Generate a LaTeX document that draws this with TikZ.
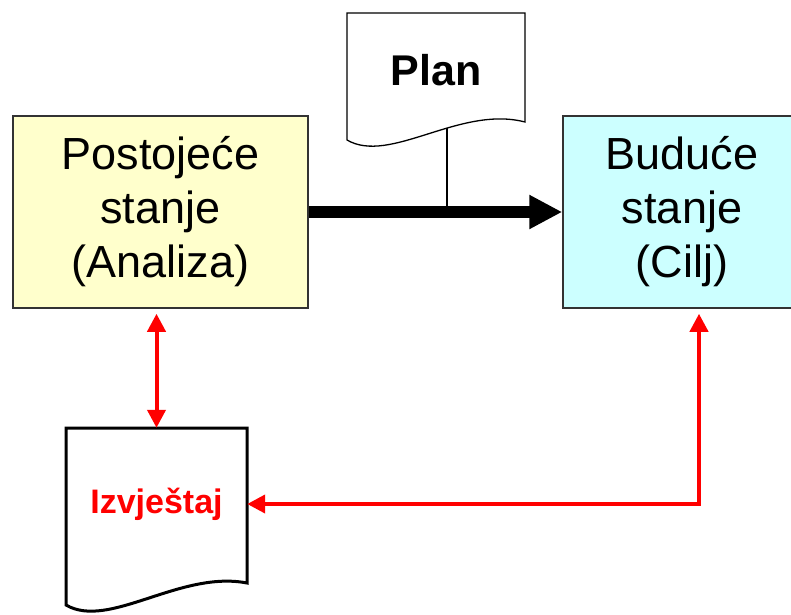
\documentclass[tikz,border=0pt]{standalone}
\usepackage{fontspec}
\setmainfont{Liberation Sans}
\usetikzlibrary{arrows.meta}
\definecolor{Line}{HTML}{333333}
\definecolor{Now}{HTML}{FFFFCC}
\definecolor{Goal}{HTML}{CCFFFF}
\definecolor{Mark}{HTML}{FF0000}

\begin{document}
\begin{tikzpicture}[
 x=1pt,y=-1pt,
 b/.style={draw=Line,line width=1.5pt,minimum height=192pt,inner sep=0pt,align=center,font=\fontsize{45}{54}\selectfont},
 d/.style={minimum width=178pt,inner sep=0pt},
 a/.style={-{Triangle[length=33pt,width=32pt]},line width=12pt},
 r/.style={line width=4pt,draw=Mark},
 rt/.tip={Triangle[length=18pt,width=18pt]}
]
\useasboundingbox (0,0) rectangle (791,614);
\clip (0,0) rectangle (791,614);
\node[b,fill=Now,minimum width=295pt] (postojece) at (160.5,212) {Postojeće\\stanje\\(Analiza)};
\node[b,fill=Goal,minimum width=238pt] (buduce) at (682,212) {Buduće\\stanje\\(Cilj)};
\node[d,minimum height=116pt,font=\bfseries\fontsize{43}{53}\selectfont] (plan) at (436,70) {Plan};
\node[d,minimum width=181pt,minimum height=152pt,text=Mark,font=\bfseries\fontsize{34}{40}\selectfont] (izvjestaj) at (156.5,504) {Izvještaj};
% document outlines
\draw[line width=1.3pt] (347,140) -- (347,13) -- (525,13) -- (525,122) .. controls (460,105) and (390,165) .. cycle;
\draw[line width=3pt] (66,605) -- (66,428) -- (247,428) -- (247,583) .. controls (180,570) and (109,630) .. cycle;
\coordinate (tap) at (447,212);
\draw[a] (postojece) -- (buduce);
\draw[line width=1.3pt] ([xshift=11pt]plan.south) -- (tap);
\draw[r,rt-rt] ([xshift=-4pt,yshift=-5pt]postojece.south) -- (izvjestaj.north);
\draw[r,rt-rt] (izvjestaj.east) -| ([xshift=17pt,yshift=-5pt]buduce.south);
\end{tikzpicture}
\end{document}
